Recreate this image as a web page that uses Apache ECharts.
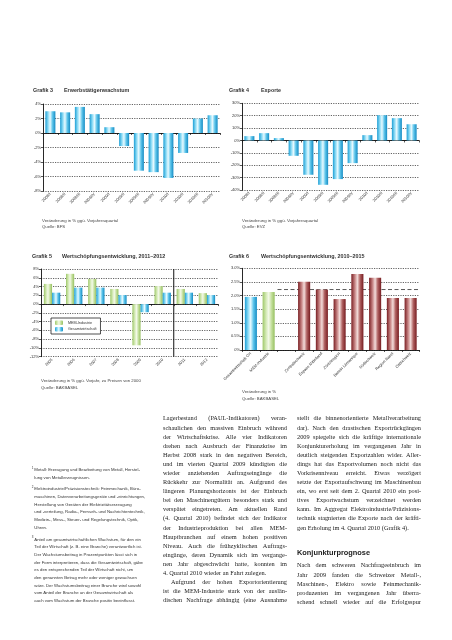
<!DOCTYPE html>
<html><head><meta charset="utf-8">
<script src="https://cdn.jsdelivr.net/npm/echarts@6/dist/echarts.min.js"></script>
<style>
html,body{margin:0;padding:0;background:#fff;}
#chart{position:absolute;left:0;top:0;width:452px;height:640px;}
.blk{position:absolute;color:#222;}
.serif{font-family:'Liberation Serif','Times New Roman',serif;font-size:6.3px;}
.ln{display:flex;justify-content:space-between;white-space:nowrap;}
.lnl{white-space:nowrap;}
.fn{font-family:'Liberation Sans',Arial,sans-serif;font-size:4.3px;color:#333;}
.fn div{white-space:nowrap;position:relative;}
.fn sup{position:absolute;left:-2.6px;top:-1.2px;font-size:3px;}
.head{position:absolute;font-family:'Liberation Sans',Arial,sans-serif;font-weight:bold;font-size:7.4px;color:#222;white-space:nowrap;}
</style></head>
<body>
<div id="chart"></div>
<div id="col2" class="blk serif"></div>
<div id="col3" class="blk serif"></div>
<div id="col3b" class="blk serif"></div>
<div class="head" style="left:297px;top:548px;">Konjunkturprognose</div>
<div id="fn" class="blk fn"></div>
<script>
// ---------- DATA ----------
const quarters = ['2008/I','2008/II','2008/III','2008/IV','2009/I','2009/II','2009/III','2009/IV','2010/I','2010/II','2010/III','2010/IV'];
const employment = [3.0, 2.85, 3.6, 2.6, 0.8, -1.8, -5.2, -5.4, -6.2, -2.75, 2.0, 2.45];
const exportsGrowth = [3.5, 5.9, 1.9, -12.4, -27.7, -35.8, -31.2, -18.3, 4.3, 20.4, 18.0, 13.1];
const years = ['2005','2006','2007','2008','2009','2010','2011','2012'];
const memIndustry = [4.6, 6.9, 5.75, 3.45, -9.4, 4.1, 3.45, 2.5];
const totalEconomy = [2.6, 3.75, 3.75, 2.05, -1.85, 2.6, 2.6, 2.05];
const forecastStart = 6;
const regions = ['Gesamtwirtschaft CH','MEM-Industrie','','Zentralschweiz','Espace Mittelland','Zürichregion','Bassin Lémanique','Südschweiz','Region Basel','Ostschweiz'];
const regionValues = [1.95, 2.13, null, 2.51, 2.22, 1.87, 2.79, 2.65, 1.91, 1.91];
const regionGroup = ['ch','mem','','reg','reg','reg','reg','reg','reg','reg'];
const regionAverage = 2.22;

// ---------- STYLES ----------
const FONT = "'Liberation Sans', Arial, sans-serif";
function grad(stops){return {type:'linear',x:0,y:0,x2:1,y2:0,colorStops:stops.map(s=>({offset:s[0],color:s[1]}))};}
const BLUE = grad([[0,'#1c9fd6'],[0.28,'#8fdcf5'],[0.48,'#e8faff'],[0.72,'#5cc4ea'],[1,'#158cc4']]);
const GREEN = grad([[0,'#9fc86a'],[0.3,'#d6ebb8'],[0.5,'#f3f9e8'],[0.75,'#c2de9a'],[1,'#96c060']]);
const RED = grad([[0,'#7a1e22'],[0.3,'#c98888'],[0.5,'#f3dcda'],[0.72,'#b06262'],[1,'#761b1f']]);
const gridLine = {show:true,lineStyle:{type:[1.2,1.2],color:'#222',width:0.7}};
const axisTxt = {fontSize:4,color:'#333',fontFamily:FONT};

function yAx(grid,min,max,interval,fmt){
  return {type:'value',gridIndex:grid,min:min,max:max,interval:interval,
    axisLine:{show:true,onZero:false,lineStyle:{color:'#111',width:0.9}},
    axisTick:{show:true,length:2,lineStyle:{color:'#111',width:0.7}},
    axisLabel:Object.assign({margin:2,formatter:fmt},axisTxt),
    splitLine:gridLine};
}
function zeroAx(grid,data){
  return {type:'category',gridIndex:grid,data:data,position:'top',
    axisLine:{show:true,onZero:true,lineStyle:{color:'#111',width:0.9}},
    axisTick:{show:true,inside:true,length:2,interval:0,lineStyle:{color:'#111',width:0.7}},
    axisLabel:{show:false},splitLine:{show:false}};
}
function labelAx(grid,data){
  return {type:'category',gridIndex:grid,data:data,position:'bottom',
    axisLine:{show:false,onZero:false},axisTick:{show:false},
    axisLabel:Object.assign({interval:0,rotate:45,margin:2.5},axisTxt),splitLine:{show:false}};
}
function hiddenAx(grid,max){return {type:'value',gridIndex:grid,min:0,max:max,show:false,position:'top'};}
const pct = v => v + '%';
const pct1 = v => v === 0 ? '0%' : v.toFixed(1) + '%';

function txt(text,left,top,size,bold){
  return {text:text,left:left,top:top,padding:0,
    textStyle:{fontSize:size,fontWeight:bold?'bold':'normal',color:bold?'#333':'#444',fontFamily:FONT,lineHeight:size*1.45}};
}

const option = {
  animation:false,
  backgroundColor:'#fff',
  title:[
    txt('Grafik 3',33,87,5.4,true), txt('Erwerbstätigenwachstum',64,87,5.4,true),
    txt('Grafik 4',229,87,5.4,true), txt('Exporte',261,87,5.4,true),
    txt('Grafik 5',32,253,5.4,true), txt('Wertschöpfungsentwicklung, 2011–2012',62,253,5.4,true),
    txt('Grafik 6',229,252.5,5.4,true), txt('Wertschöpfungsentwicklung, 2010–2015',261,252.5,5.4,true),
    txt('Veränderung in % ggü. Vorjahresquartal\nQuelle: BFS',42,217.5,4.3,false),
    txt('Veränderung in % ggü. Vorjahresquartal\nQuelle: EVZ',242,217.5,4.3,false),
    txt('Veränderung in % ggü. Vorjahr, zu Preisen von 2000\nQuelle: BAKBASEL',41,378,4.3,false),
    txt('Veränderung in %\nQuelle: BAKBASEL',242,389,4.3,false)
  ],
  legend:{data:['MEM-Industrie','Gesamtwirtschaft'],orient:'vertical',left:51,top:318,
    itemWidth:8,itemHeight:4.5,itemGap:2,padding:[2.5,4],borderColor:'#222',borderWidth:0.8,
    backgroundColor:'#fff',textStyle:{fontSize:3.7,color:'#333',fontFamily:FONT},selectedMode:false},
  grid:[
    {left:43,top:104,width:177,height:87},
    {left:242,top:103.3,width:177,height:86.7},
    {left:41,top:269,width:177,height:87.7},
    {left:242,top:268.3,width:177.5,height:81.7}
  ],
  xAxis:[
    zeroAx(0,quarters), labelAx(0,quarters),
    zeroAx(1,quarters), labelAx(1,quarters),
    zeroAx(2,years), labelAx(2,years), hiddenAx(2,years.length),
    {type:'category',gridIndex:3,data:regions,position:'bottom',
      axisLine:{show:true,onZero:false,lineStyle:{color:'#111',width:0.9}},
      axisTick:{show:true,length:2,interval:0,lineStyle:{color:'#111',width:0.7}},
      axisLabel:Object.assign({interval:0,rotate:45,margin:3},axisTxt),splitLine:{show:false}},
    hiddenAx(3,regions.length)
  ],
  yAxis:[
    yAx(0,-8,4,2,pct), yAx(1,-40,30,10,pct), yAx(2,-12,8,2,pct), yAx(3,0,3,0.5,pct1)
  ],
  series:[
    {type:'bar',name:'Erwerbstätige',xAxisIndex:0,yAxisIndex:0,data:employment,barCategoryGap:'32%',itemStyle:{color:BLUE}},
    {type:'bar',name:'Exporte',xAxisIndex:2,yAxisIndex:1,data:exportsGrowth,barCategoryGap:'32%',itemStyle:{color:BLUE}},
    {type:'bar',name:'MEM-Industrie',xAxisIndex:4,yAxisIndex:2,data:memIndustry,barGap:'0%',barCategoryGap:'26%',itemStyle:{color:GREEN}},
    {type:'bar',name:'Gesamtwirtschaft',xAxisIndex:4,yAxisIndex:2,data:totalEconomy,barGap:'0%',barCategoryGap:'26%',itemStyle:{color:BLUE}},
    {type:'line',name:'split',xAxisIndex:6,yAxisIndex:2,data:[[forecastStart,-12],[forecastStart,8]],
      symbol:'none',silent:true,lineStyle:{color:'#111',width:1},z:5},
    {type:'line',name:'avg',xAxisIndex:8,yAxisIndex:3,data:[[2,regionAverage],[regions.length,regionAverage]],
      symbol:'none',silent:true,lineStyle:{color:'#444',width:0.9,type:[4,2.5]},z:1},
    {type:'bar',name:'CH',stack:'r',xAxisIndex:7,yAxisIndex:3,barCategoryGap:'32%',z:3,
      data:regionValues.map((v,i)=>regionGroup[i]==='ch'?v:null),itemStyle:{color:BLUE}},
    {type:'bar',name:'MEM',stack:'r',xAxisIndex:7,yAxisIndex:3,barCategoryGap:'32%',z:3,
      data:regionValues.map((v,i)=>regionGroup[i]==='mem'?v:null),itemStyle:{color:GREEN}},
    {type:'bar',name:'Regionen',stack:'r',xAxisIndex:7,yAxisIndex:3,barCategoryGap:'32%',z:3,
      data:regionValues.map((v,i)=>regionGroup[i]==='reg'?v:null),itemStyle:{color:RED}}
  ]
};
const chart = echarts.init(document.getElementById('chart'),null,{renderer:'canvas'});
chart.setOption(option);

// ---------- BODY TEXT ----------
const col2a = [
 'Lagerbestand (PAUL-Indikatoren) veran-',
 'schaulichen den massiven Einbruch während',
 'der Wirtschaftskrise. Alle vier Indikatoren',
 'drehen nach Ausbruch der Finanzkrise im',
 'Herbst 2008 stark in den negativen Bereich,',
 'und im vierten Quartal 2009 kündigten die',
 'wieder anziehenden Auftragseingänge die',
 'Rückkehr zur Normalität an. Aufgrund des',
 'längeren Planungshorizonts ist der Einbruch',
 'bei den Maschinengütern besonders stark und',
 'verspätet eingetreten. Am aktuellen Rand',
 '(4. Quartal 2010) befindet sich der Indikator',
 'der Industrieproduktion bei allen MEM-',
 'Hauptbranchen auf einem hohen positiven',
 'Niveau. Auch die frühzyklischen Auftrags-',
 'eingänge, deren Dynamik sich im vergange-',
 'nen Jahr abgeschwächt hatte, konnten im',
 '4. Quartal 2010 wieder an Fahrt zulegen.'
];
const col2b = [
 'Aufgrund der hohen Exportorientierung',
 'ist die MEM-Industrie stark von der auslän-',
 'dischen Nachfrage abhängig (eine Ausnahme'
];
const col3a = [
 'stellt die binnenorientierte Metallverarbeitung',
 'dar). Nach den drastischen Exportrückgängen',
 '2009 spiegelte sich die kräftige internationale',
 'Konjunkturerholung im vergangenen Jahr in',
 'deutlich steigenden Exportzahlen wider. Aller-',
 'dings hat das Exportvolumen noch nicht das',
 'Vorkrisenniveau erreicht. Etwas verzögert',
 'setzte der Exportaufschwung im Maschinenbau',
 'ein, wo erst seit dem 2. Quartal 2010 ein posi-',
 'tives Exportwachstum verzeichnet werden',
 'kann. Im Aggregat Elektroindustrie/Präzisions-',
 'technik stagnierten die Exporte nach der kräfti-',
 'gen Erholung im 4. Quartal 2010 (Grafik 4).'
];
const col3b = [
 'Nach dem schweren Nachfrageeinbruch im',
 'Jahr 2009 fanden die Schweizer Metall-,',
 'Maschinen-, Elektro sowie Feinmechanik-',
 'produzenten im vergangenen Jahr überra-',
 'schend schnell wieder auf die Erfolgsspur'
];
const footnotes = [
 ['Metall: Erzeugung und Bearbeitung von Metall, Herstel-','lung von Metallerzeugnissen.'],
 ['Elektroindustrie/Präzisionstechnik: Feinmechanik, Büro-','maschinen, Datenverarbeitungsgeräte und -einrichtungen,','Herstellung von Geräten der Elektrizitätserzeugung','und -verteilung, Radio-, Fernseh- und Nachrichtentechnik,','Medizin-, Mess-, Steuer- und Regelungstechnik, Optik,','Uhren.'],
 ['Anteil am gesamtwirtschaftlichen Wachstum, für den ein','Teil der Wirtschaft (z. B. eine Branche) verantwortlich ist.','Der Wachstumsbeitrag in Prozentpunkten lässt sich in','der Form interpretieren, dass die Gesamtwirtschaft, gäbe','es den entsprechenden Teil der Wirtschaft nicht, um','den genannten Betrag mehr oder weniger gewachsen','wäre. Der Wachstumsbeitrag einer Branche wird sowohl','vom Anteil der Branche an der Gesamtwirtschaft als','auch vom Wachstum der Branche positiv beeinflusst.']
];

const LH = 9.1;
function para(el, lines, lastLeft, indent){
  lines.forEach((t,i)=>{
    const d = document.createElement('div');
    d.style.height = LH+'px'; d.style.lineHeight = LH+'px';
    const isLast = (i===lines.length-1) && lastLeft;
    if(isLast){ d.className='lnl'; d.textContent=t; }
    else {
      d.className='ln';
      t.split(' ').forEach(w=>{const s=document.createElement('span');s.textContent=w;d.appendChild(s);});
    }
    if(i===0 && indent){ d.style.paddingLeft=indent+'px'; }
    el.appendChild(d);
  });
}
function place(id,left,top,width){const e=document.getElementById(id);e.style.left=left+'px';e.style.top=top+'px';e.style.width=width+'px';return e;}
const c2 = place('col2',163,418-LH/2,124);
para(c2,col2a,true,0); para(c2,col2b,false,8);
const c3 = place('col3',297,418-LH/2,124);
para(c3,col3a,true,0);
const c3b = place('col3b',297,565-LH/2,124);
para(c3b,col3b,false,0);

const fn = place('fn',34.3,466,125);
const FLH = 7.7;
footnotes.forEach((lines,k)=>{
  lines.forEach((t,i)=>{
    const d=document.createElement('div');
    d.style.height=FLH+'px'; d.style.lineHeight=FLH+'px';
    if(i===0){ const s=document.createElement('sup'); s.textContent=String(k+1); d.appendChild(s);
      if(k>0) d.style.marginTop='4px'; }
    d.appendChild(document.createTextNode(t));
    fn.appendChild(d);
  });
});
</script>
</body></html>
